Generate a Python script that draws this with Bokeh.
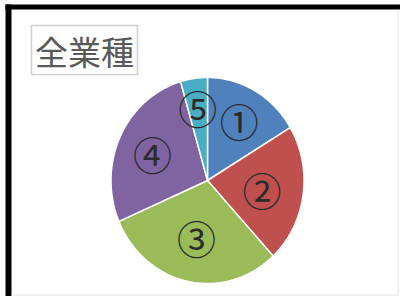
import numpy as np
from bokeh.plotting import figure
from bokeh.models import Range1d, BoxAnnotation, ColumnDataSource
from bokeh.core.properties import value
from bokeh.embed import file_html
from bokeh.resources import INLINE

# data
categories = ["①", "②", "③", "④", "⑤"]
shares = [16.4, 21.7, 30.4, 27.0, 4.5]
colors = ["#4F81BD", "#C0504D", "#9BBB59", "#8064A2", "#4BACC6"]
title_text = "全業種"

# layout (image pixel coordinates)
W, H = 400, 296
cx, cy, rx, ry = 207, 180, 96.5, 103
label_r = [0.67, 0.57, 0.56, 0.63, 0.72]

p = figure(width=W, height=H, output_backend="svg", toolbar_location=None,
           x_range=Range1d(0, W), y_range=Range1d(H, 0), min_border=0)
p.axis.visible = False
p.grid.visible = False
p.outline_line_color = None
p.background_fill_color = "white"
p.border_fill_color = "white"

# frame decoration
p.add_layout(BoxAnnotation(left=5, right=11, top=4, bottom=H, fill_color="black",
                           fill_alpha=1, line_color=None, level="underlay"))
p.add_layout(BoxAnnotation(left=5, right=W, top=4, bottom=9, fill_color="black",
                           fill_alpha=1, line_color=None, level="underlay"))
p.add_layout(BoxAnnotation(left=397, right=398, top=9, bottom=295, fill_color="#e6e6e6",
                           fill_alpha=1, line_color=None, level="underlay"))
p.add_layout(BoxAnnotation(left=11, right=398, top=294, bottom=295, fill_color="#e6e6e6",
                           fill_alpha=1, line_color=None, level="underlay"))

# pie slices as ellipse sectors
total = sum(shares)
cum = np.concatenate([[0], np.cumsum(shares)]) / total * 2 * np.pi
xs, ys, lx, ly = [], [], [], []
for i in range(len(shares)):
    t = np.linspace(cum[i], cum[i + 1], 80)
    xs.append(list(np.concatenate([[cx], cx + rx * np.sin(t), [cx]])))
    ys.append(list(np.concatenate([[cy], cy - ry * np.cos(t), [cy]])))
    m = (cum[i] + cum[i + 1]) / 2
    lx.append(cx + label_r[i] * rx * np.sin(m))
    ly.append(cy - label_r[i] * ry * np.cos(m))

src = ColumnDataSource(dict(xs=xs, ys=ys, color=colors))
p.patches("xs", "ys", source=src, fill_color="color", line_color="white", line_width=1.5)

p.text(lx, ly, text=categories, text_font=value("Noto Sans CJK JP"),
       text_font_size="39px", text_color="#2b2b2b", text_align="center",
       text_baseline="middle")

# title box
p.add_layout(BoxAnnotation(left=31, right=137, top=25, bottom=74, fill_color="white",
                           fill_alpha=1, line_color="#606060", line_width=1.5,
                           level="underlay"))
p.text([84], [50], text=[title_text], text_font=value("Noto Sans CJK JP"),
       text_font_size="33px", text_color="#595959", text_align="center",
       text_baseline="middle")

open("out.html", "w").write(file_html(p, INLINE))
